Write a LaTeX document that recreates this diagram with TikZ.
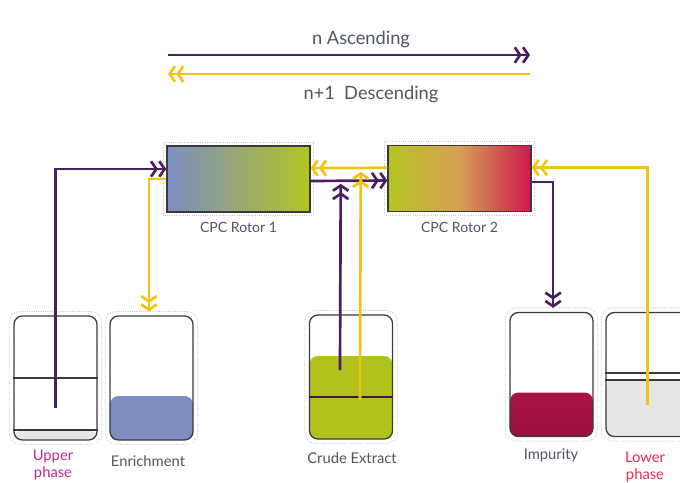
\documentclass[tikz,border=0pt]{standalone}
\usepackage{fontspec}
\setmainfont{Lato}
\usepackage{xcolor}
\usetikzlibrary{arrows.meta, positioning}
\definecolor{purp}{HTML}{4B1E5F}
\definecolor{yel}{HTML}{F2C315}
\definecolor{rblue}{HTML}{7B8EC4}
\definecolor{rgreen}{HTML}{B4C520}
\definecolor{rorange}{HTML}{D4A055}
\definecolor{rred}{HTML}{D0174F}
\definecolor{enrfill}{HTML}{7D8DC0}
\definecolor{crudefill}{HTML}{B2C11B}
\definecolor{imptop}{HTML}{C8154C}
\definecolor{impbot}{HTML}{9A1040}
\definecolor{phasefill}{HTML}{E6E6E8}
\definecolor{rim}{HTML}{3A3A3A}
\definecolor{capgray}{HTML}{4D5665}
\definecolor{upcol}{HTML}{C2288A}
\definecolor{lowcol}{HTML}{EE2A4A}
\tikzstyle{flow} = [line width=1.9pt, -{Straight Barb[length=3.8pt,width=11pt]Straight Barb[length=3.8pt,width=11pt]}]

\begin{document}
\begin{tikzpicture}[x=0.025cm, y=-0.025cm,
            rotor/.style={rectangle, minimum width=3.575cm, minimum height=1.65cm, draw=rim, line width=1pt, inner sep=0pt},
            vessel/.style={rectangle, rounded corners=6pt, minimum width=2.075cm, minimum height=3.1cm, draw=rim, line width=0.9pt, inner sep=0pt, fill=white},
            level/.style 2 args={path picture={\fill[#1] (path picture bounding box.south west) rectangle ([yshift=#2]path picture bounding box.south east);}},
            frame/.style={draw=gray!45, line width=0.6pt, densely dotted},
            caption/.style={font=\fontsize{10.5}{12}\selectfont, text=capgray, align=center},
            legend/.style={font=\fontsize{13}{15}\selectfont, text=capgray}]
            \clip (0,0) rectangle (680,482);

            % Legend
            \coordinate (ascl) at (168,55);
            \coordinate (ascr) at (530,55);
            \coordinate (desl) at (168,74);
            \coordinate (desr) at (530,74);
            \node[legend] (asc) at (361,39) {n Ascending};
            \node[legend] (des) at (371,94) {n+1\hspace{0.5em}Descending};
            \draw[flow, purp] (ascl) -- (ascr);
            \draw[flow, yel] (desr) -- (desl);

            % Rotors
            \node[rotor, left color=rblue, right color=rgreen, middle color=rblue!50!rgreen] (rotone) at (238.5,179) {};
            \node[rotor, left color=rgreen, right color=rred, middle color=rorange] (rottwo) at (459.5,178.5) {};
            \node[font=\fontsize{10}{12}\selectfont, text=capgray, below=0.12cm of rotone] (rotonetxt) {CPC Rotor 1};
            \node[font=\fontsize{10}{12}\selectfont, text=capgray, below=0.12cm of rottwo] (rottwotxt) {CPC Rotor 2};

            % Vessels
            \node[vessel, level={phasefill}{0.25cm}] (upper) at (55.5,378) {};
            \node[vessel, level={enrfill}{1.1cm}] (enrich) at (151.5,378) {};
            \node[vessel, level={crudefill}{2.075cm}] (crude) at (351,377) {};
            \node[vessel, path picture={\shade[top color=imptop, bottom color=impbot] (path picture bounding box.south west) rectangle ([yshift=1.1cm]path picture bounding box.south east);}] (impure) at (551.5,374.5) {};
            \node[vessel, level={phasefill}{1.425cm}] (lower) at (647.5,374.5) {};

            % Phase lines
            \draw[rim, line width=0.8pt] (upper.west |- 0,378) -- (upper.east |- 0,378);
            \draw[rim, line width=0.8pt] (upper.west |- 0,430) -- (upper.east |- 0,430);
            \draw[purp!80!black, line width=0.8pt] (crude.west |- 0,397) -- (crude.east |- 0,397);
            \draw[rim, line width=0.8pt] (lower.west |- 0,373) -- (lower.east |- 0,373);
            \draw[rim, line width=0.8pt] (lower.west |- 0,380) -- (lower.east |- 0,380);

            % Frames
            \foreach \n in {upper, enrich, crude, impure, lower}
                \draw[frame, rounded corners=8pt] ([shift={(-4,4)}]\n.south west) rectangle ([shift={(4,-4)}]\n.north east);
            \foreach \n in {rotone, rottwo}
                \draw[frame] ([shift={(-3,3)}]\n.south west) rectangle ([shift={(3,-3)}]\n.north east);

            % Captions
            \node[caption, text=upcol] (uppertxt) at (53,465) {Upper\\phase};
            \node[caption] (enrichtxt) at (148,461) {Enrichment};
            \node[caption] (crudetxt) at (352,458) {Crude Extract};
            \node[caption] (imputxt) at (551,455) {Impurity};
            \node[caption, text=lowcol] (lowertxt) at (645,467) {Lower\\phase};

            % Flows
            \draw[flow, purp] ([yshift=-0.75cm]upper.center) |- ([yshift=0.25cm]rotone.west);
            \draw[flow, yel] (rotone.west) -| ([xshift=-0.06cm, yshift=0.1cm]enrich.north);
            \draw[flow, yel] ([yshift=0.27cm]rottwo.west) -- ([yshift=0.27cm]rotone.east);
            \draw[flow, purp] ([yshift=-0.05cm]rotone.east) -- ([yshift=-0.05cm]rottwo.west);
            \draw[flow, purp] ([xshift=-0.275cm, yshift=0.175cm]crude.center) -- ([xshift=0.75cm, yshift=-0.12cm]rotone.east);
            \draw[flow, yel] ([xshift=0.225cm, yshift=-0.575cm]crude.center) -- ([xshift=1.25cm, yshift=0.18cm]rotone.east);
            \draw[flow, purp] ([yshift=-0.09cm]rottwo.east) -| ([xshift=0.04cm, yshift=0.1cm]impure.north);
            \draw[flow, yel] ([yshift=-0.75cm]lower.center) |- ([yshift=0.27cm]rottwo.east);
        \end{tikzpicture}
\end{document}
